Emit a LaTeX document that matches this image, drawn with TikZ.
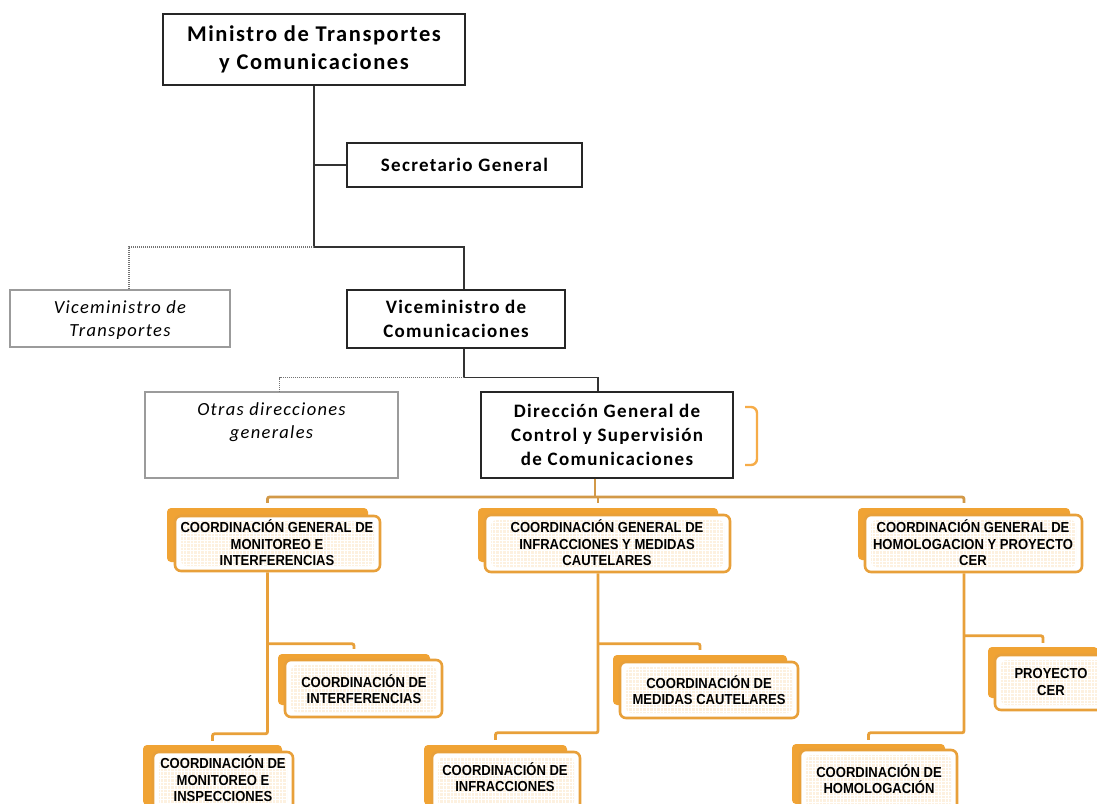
\documentclass[tikz,border=0pt]{standalone}
\usepackage{fontspec}
\setmainfont{Carlito}[LetterSpace=7]
\newfontfamily\condfont[FakeStretch=0.9]{Liberation Sans}
\usetikzlibrary{calc}

\definecolor{orgfill}{RGB}{240,163,52}
\definecolor{orgline}{RGB}{232,160,58}
\definecolor{busline}{RGB}{210,153,72}
\definecolor{cream}{RGB}{253,241,224}
\definecolor{boxgray}{RGB}{155,155,155}
\definecolor{brk}{RGB}{246,172,72}

\begin{document}
\begin{tikzpicture}[x=1pt,y=-1pt,
  blackbox/.style={draw=black!85, line width=1.4pt, fill=white, inner sep=0pt, align=center,
    font=\bfseries\fontsize{19}{24}\selectfont},
  graybox/.style={draw=boxgray, line width=1.4pt, fill=white, inner sep=0pt},
  graytext/.style={inner sep=0pt, align=center, font=\itshape\fontsize{18.5}{23}\selectfont},
  bline/.style={draw=black!80, line width=1.3pt},
  dline/.style={draw=black!55, line width=1.2pt, dash pattern=on 1pt off 1pt},
  backbox/.style={fill=orgfill, rounded corners=4pt, inner sep=0pt},
  frontbox/.style={draw=orgline, line width=2.6pt, fill=white, rounded corners=6pt, inner sep=0pt,
    path picture={
      \fill[cream] ([shift={(6pt,5pt)}]path picture bounding box.south west)
        rectangle ([shift={(-6pt,-5pt)}]path picture bounding box.north east);
      \draw[white, line width=0.5pt, step=3.5pt]
        ([shift={(6pt,5pt)}]path picture bounding box.south west)
        grid ([shift={(-6pt,-5pt)}]path picture bounding box.north east);}},
  otext/.style={inner sep=0pt, align=center, font=\condfont\bfseries\fontsize{14.5}{16.5}\selectfont},
  oline/.style={draw=orgline, line width=2.8pt, rounded corners=2pt},
  bus/.style={draw=busline, line width=2.8pt, rounded corners=2pt}
]
\useasboundingbox (0,0) rectangle (1097,803);
\clip (0,0) rectangle (1097,803);
\fill[white] (0,0) rectangle (1097,803);

% ---- upper levels ----
\node[blackbox, minimum width=302pt, minimum height=71pt, font=\bfseries\fontsize{22.5}{28}\selectfont]
  (min) at (314,49.5) {Ministro de Transportes\\y Comunicaciones};
\node[blackbox, minimum width=235pt, minimum height=44pt] (sec) at (464.5,165) {Secretario General};
\node[graybox, minimum width=220pt, minimum height=57pt] (vt) at (120,318.5) {};
\node[graytext] (vttxt) at (120,320) {Viceministro de\\Transportes};
\node[blackbox, minimum width=218pt, minimum height=58pt] (vc) at (456,319) {Viceministro de\\Comunicaciones};
\node[graybox, minimum width=253pt, minimum height=86pt] (ot) at (271.5,435) {};
\node[graytext] (ottxt) at (271.5,422) {Otras direcciones\\generales};
\node[blackbox, minimum width=252pt, minimum height=86pt] (dg) at (607,435)
  {Dirección General de\\Control y Supervisión\\de Comunicaciones};

\coordinate (t1) at (314,247);
\draw[bline] (min.south) -- (t1);
\draw[bline] (min.south |- sec.west) -- (sec.west);
\draw[bline] (t1) -| ([xshift=8pt]vc.north);
\draw[dline] (t1) -| ([xshift=9pt]vt.north);
\coordinate (t2) at ($(vc.south)+(8,29)$);
\draw[bline] ([xshift=8pt]vc.south) -- (t2) -| ([xshift=-9pt]dg.north);
\draw[dline] (t2) -| ([xshift=8pt]ot.north);

% bracket beside the directorate
\draw[brk, line width=2.4pt, rounded corners=6pt] (745,407) -- (757,407) -- (757,465) -- (745,465);

% ---- coordinations ----
\node[backbox, minimum width=201pt, minimum height=54pt] (cg1b) at (267.5,535) {};
\node[frontbox, minimum width=205pt, minimum height=55pt] (cg1) at (277.5,543.5) {};
\node[otext] (cg1t) at (277,543) {COORDINACIÓN GENERAL DE\\MONITOREO E\\INTERFERENCIAS};

\node[backbox, minimum width=240pt, minimum height=54pt] (cg2b) at (598,535) {};
\node[frontbox, minimum width=245pt, minimum height=57pt] (cg2) at (607.5,543.5) {};
\node[otext] (cg2t) at (607,543) {COORDINACIÓN GENERAL DE\\INFRACCIONES Y MEDIDAS\\CAUTELARES};

\node[backbox, minimum width=212pt, minimum height=52pt] (cg3b) at (964,534) {};
\node[frontbox, minimum width=217pt, minimum height=57pt] (cg3) at (973.5,543.5) {};
\node[otext] (cg3t) at (973,543) {COORDINACIÓN GENERAL DE\\HOMOLOGACION Y PROYECTO\\CER};

\node[backbox, minimum width=152pt, minimum height=51pt] (intb) at (354,679.5) {};
\node[frontbox, minimum width=157pt, minimum height=57pt] (int) at (363.5,688.5) {};
\node[otext] (intt) at (364,689) {COORDINACIÓN DE\\INTERFERENCIAS};

\node[backbox, minimum width=174pt, minimum height=50pt] (medb) at (700,680) {};
\node[frontbox, minimum width=178pt, minimum height=56pt] (med) at (709,690) {};
\node[otext] (medt) at (709,690) {COORDINACIÓN DE\\MEDIDAS CAUTELARES};

\node[backbox, minimum width=110pt, minimum height=51pt] (cerb) at (1043,672.5) {};
\node[frontbox, minimum width=115pt, minimum height=55pt] (cer) at (1052.5,682.5) {};
\node[otext] (cert) at (1051,682) {PROYECTO\\CER};

\node[backbox, minimum width=139pt, minimum height=60pt] (mib) at (212.5,775) {};
\node[frontbox, minimum width=140pt, minimum height=60pt] (mi) at (223,782) {};
\node[otext] (mit) at (223,779) {COORDINACIÓN DE\\MONITOREO E\\INSPECCIONES};

\node[backbox, minimum width=143pt, minimum height=60pt] (infb) at (495.5,775) {};
\node[frontbox, minimum width=148pt, minimum height=60pt] (inf) at (506,782) {};
\node[otext] (inft) at (505,777) {COORDINACIÓN DE\\INFRACCIONES};

\node[backbox, minimum width=153pt, minimum height=60pt] (homb) at (868.5,774) {};
\node[frontbox, minimum width=157pt, minimum height=62pt] (hom) at (878.5,781) {};
\node[otext] (homt) at (879,779) {COORDINACIÓN DE\\HOMOLOGACIÓN};

% ---- orange connectors ----
\coordinate (bus) at (595,497);
\draw[bus] ([xshift=-12pt]dg.south) -- (bus);
\draw[bus, shorten <=5pt, shorten >=5pt] (cg1b.north) |- (bus) -| (cg3b.north);
\draw[bus, shorten >=5pt] (cg2b.north |- bus) -- (cg2b.north);

\coordinate (j1a) at ($(intb.north)+(0,-10)$);
\coordinate (j1b) at ($(mib.north)+(0,-11)$);
\draw[oline, shorten >=4pt] (cg1b.center |- cg1.south) |- (j1b) -- (mib.north);
\draw[oline, shorten >=5pt] (cg1b.center |- j1a) -| (intb.north);

\coordinate (j2a) at ($(medb.north)+(0,-11)$);
\coordinate (j2b) at ($(infb.north)+(0,-12)$);
\draw[oline, shorten >=5pt] (cg2b.center |- cg2.south) |- (j2b) -- (infb.north);
\draw[oline, shorten >=5pt] (cg2b.center |- j2a) -| (medb.north);

\coordinate (j3a) at ($(cerb.north)+(0,-11)$);
\coordinate (j3b) at ($(homb.north)+(0,-11)$);
\draw[oline, shorten >=4pt] (cg3b.center |- cg3.south) |- (j3b) -- (homb.north);
\draw[oline, shorten >=4pt] (cg3b.center |- j3a) -| (cerb.north);
\end{tikzpicture}
\end{document}
